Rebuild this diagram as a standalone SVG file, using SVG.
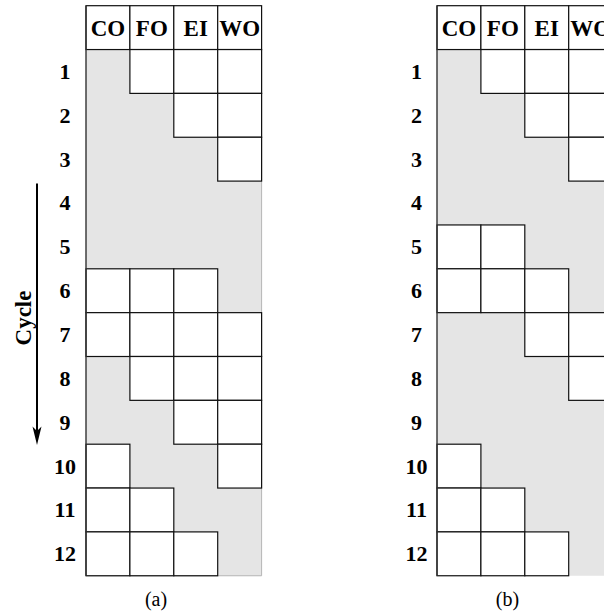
<svg xmlns="http://www.w3.org/2000/svg" width="604" height="614" viewBox="0 0 604 614">
<style>
.bg{fill:#e5e5e5;stroke:none}
.c{fill:#fff;stroke:#111;stroke-width:1.2}
.edge{stroke:#333;stroke-width:1.4}
.redge{stroke:#b5b5b5;stroke-width:1}
.h{font-family:"Liberation Serif","Times New Roman",serif;font-weight:bold;font-size:23px;text-anchor:middle;fill:#000}
.n{font-family:"Liberation Serif","Times New Roman",serif;font-weight:bold;font-size:22px;text-anchor:middle;fill:#000}
.cap{font-family:"Liberation Serif","Times New Roman",serif;font-size:20px;text-anchor:middle;fill:#000}
</style>
<rect width="604" height="614" fill="#fff"/>
<defs>
<rect id="cell" class="c" width="43.9" height="43.85"/>
</defs>

<g id="panel-a" transform="translate(86,5.7)">
  <rect class="bg" x="0" y="43.85" width="175.6" height="526.2"/>
  <line class="redge" x1="175.6" y1="43.85" x2="175.6" y2="570.05"/>
  <line class="redge" x1="0" y1="570.05" x2="175.6" y2="570.05"/>
  <g id="a-header">
    <use href="#cell" x="0" y="0"/><use href="#cell" x="43.9" y="0"/><use href="#cell" x="87.8" y="0"/><use href="#cell" x="131.7" y="0"/>
    <text class="h" x="21.95" y="30">CO</text>
    <text class="h" x="65.85" y="30">FO</text>
    <text class="h" x="109.75" y="30">EI</text>
    <text class="h" x="153.65" y="30">WO</text>
  </g>
  <g id="a-cells">
    <use href="#cell" x="43.9" y="43.85"/><use href="#cell" x="87.8" y="43.85"/><use href="#cell" x="131.7" y="43.85"/>
    <use href="#cell" x="87.8" y="87.7"/><use href="#cell" x="131.7" y="87.7"/>
    <use href="#cell" x="131.7" y="131.55"/>
    <use href="#cell" x="0" y="263.1"/><use href="#cell" x="43.9" y="263.1"/><use href="#cell" x="87.8" y="263.1"/>
    <use href="#cell" x="0" y="306.95"/><use href="#cell" x="43.9" y="306.95"/><use href="#cell" x="87.8" y="306.95"/><use href="#cell" x="131.7" y="306.95"/>
    <use href="#cell" x="43.9" y="350.8"/><use href="#cell" x="87.8" y="350.8"/><use href="#cell" x="131.7" y="350.8"/>
    <use href="#cell" x="87.8" y="394.65"/><use href="#cell" x="131.7" y="394.65"/>
    <use href="#cell" x="0" y="438.5"/><use href="#cell" x="131.7" y="438.5"/>
    <use href="#cell" x="0" y="482.35"/><use href="#cell" x="43.9" y="482.35"/>
    <use href="#cell" x="0" y="526.2"/><use href="#cell" x="43.9" y="526.2"/><use href="#cell" x="87.8" y="526.2"/>
  </g>
  <line class="edge" x1="0" y1="0" x2="0" y2="570.05"/>
  <g id="a-rows">
    <text class="n" x="-21" y="73.3">1</text>
    <text class="n" x="-21" y="117.1">2</text>
    <text class="n" x="-21" y="161.0">3</text>
    <text class="n" x="-21" y="204.8">4</text>
    <text class="n" x="-21" y="248.7">5</text>
    <text class="n" x="-21" y="292.5">6</text>
    <text class="n" x="-21" y="336.4">7</text>
    <text class="n" x="-21" y="380.2">8</text>
    <text class="n" x="-21" y="424.1">9</text>
    <text class="n" x="-21" y="467.9">10</text>
    <text class="n" x="-21" y="511.8">11</text>
    <text class="n" x="-21" y="555.6">12</text>
  </g>
</g>

<g id="panel-b" transform="translate(437,5.7)">
  <rect class="bg" x="0" y="43.85" width="175.6" height="526.2"/>
  <g id="b-header">
    <use href="#cell" x="0" y="0"/><use href="#cell" x="43.9" y="0"/><use href="#cell" x="87.8" y="0"/><use href="#cell" x="131.7" y="0"/>
    <text class="h" x="21.95" y="30">CO</text>
    <text class="h" x="65.85" y="30">FO</text>
    <text class="h" x="109.75" y="30">EI</text>
    <text class="h" x="153.65" y="30">WO</text>
  </g>
  <g id="b-cells">
    <use href="#cell" x="43.9" y="43.85"/><use href="#cell" x="87.8" y="43.85"/><use href="#cell" x="131.7" y="43.85"/>
    <use href="#cell" x="87.8" y="87.7"/><use href="#cell" x="131.7" y="87.7"/>
    <use href="#cell" x="131.7" y="131.55"/>
    <use href="#cell" x="0" y="219.25"/><use href="#cell" x="43.9" y="219.25"/>
    <use href="#cell" x="0" y="263.1"/><use href="#cell" x="43.9" y="263.1"/><use href="#cell" x="87.8" y="263.1"/>
    <use href="#cell" x="87.8" y="306.95"/><use href="#cell" x="131.7" y="306.95"/>
    <use href="#cell" x="131.7" y="350.8"/>
    <use href="#cell" x="0" y="438.5"/>
    <use href="#cell" x="0" y="482.35"/><use href="#cell" x="43.9" y="482.35"/>
    <use href="#cell" x="0" y="526.2"/><use href="#cell" x="43.9" y="526.2"/><use href="#cell" x="87.8" y="526.2"/>
  </g>
  <line class="edge" x1="0" y1="0" x2="0" y2="570.05"/>
  <g id="b-rows">
    <text class="n" x="-20.5" y="73.3">1</text>
    <text class="n" x="-20.5" y="117.1">2</text>
    <text class="n" x="-20.5" y="161.0">3</text>
    <text class="n" x="-20.5" y="204.8">4</text>
    <text class="n" x="-20.5" y="248.7">5</text>
    <text class="n" x="-20.5" y="292.5">6</text>
    <text class="n" x="-20.5" y="336.4">7</text>
    <text class="n" x="-20.5" y="380.2">8</text>
    <text class="n" x="-20.5" y="424.1">9</text>
    <text class="n" x="-20.5" y="467.9">10</text>
    <text class="n" x="-20.5" y="511.8">11</text>
    <text class="n" x="-20.5" y="555.6">12</text>
  </g>
</g>

<g id="cycle-label">
  <text class="h" transform="translate(30.5,318) rotate(-90)">Cycle</text>
</g>

<g id="connectors">
  <line x1="37" y1="183.5" x2="37" y2="432" stroke="#000" stroke-width="2"/>
  <polygon points="37,445 32.5,426.5 37,431 41.5,426.5" fill="#000"/>
</g>

<g id="captions">
  <text class="cap" x="156" y="606">(a)</text>
  <text class="cap" x="507.5" y="606">(b)</text>
</g>
</svg>
